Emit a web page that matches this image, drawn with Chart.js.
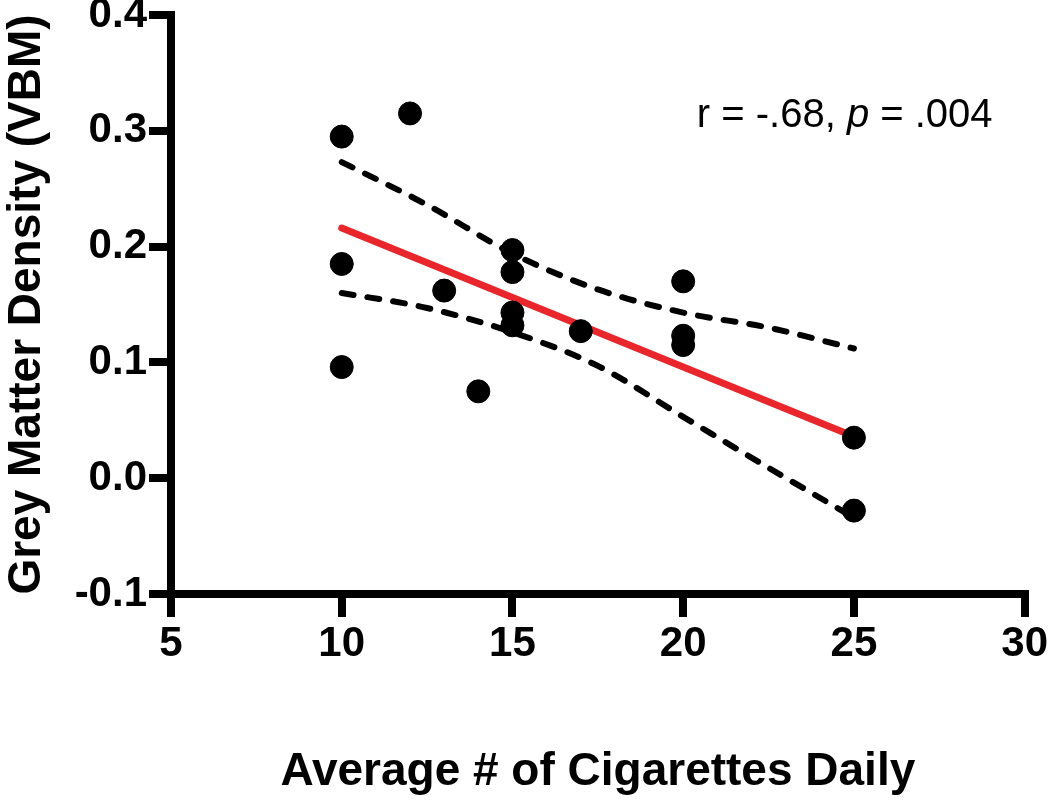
<!DOCTYPE html>
<html>
<head>
<meta charset="utf-8">
<script src="https://cdn.jsdelivr.net/npm/chart.js@4/dist/chart.umd.min.js"></script>
<style>
	body { margin: 0; background: #fff; }
	canvas { display: block; }
</style>
</head>
<body>
<canvas id="smokeChart" width="1050" height="800"></canvas>
<script>
// cigarettes per day vs grey matter density
var cigsDaily = [10, 12, 10, 10, 13, 14, 15, 15, 15, 15, 17, 20, 20, 20, 25, 25];
var greyDensity = [0.295, 0.315, 0.185, 0.096, 0.162, 0.075, 0.197, 0.178, 0.143, 0.132, 0.127, 0.170, 0.123, 0.115, 0.035, -0.028];

// fitted line
var fitX = [10, 25];
var fitY = [0.216, 0.036];

// 95% band
var bandX = [10, 12.5, 15, 17.5, 20, 22.5, 25];
var bandUpper = [0.273, 0.236, 0.194, 0.163, 0.143, 0.130, 0.112];
var bandLower = [0.160, 0.147, 0.126, 0.097, 0.053, 0.009, -0.034];

var xTicks = [5, 10, 15, 20, 25, 30];
var yTicks = [-0.1, 0.0, 0.1, 0.2, 0.3, 0.4];

var statsNote = ["r = -.68, ", "p", " = .004"];
var noteX = 20.4, noteY = 0.303;

var fontFam = "'Liberation Sans', Arial, Helvetica, sans-serif";

function toPts(xs, ys){
	var out = [];
	for (var i = 0; i < xs.length; i++) out.push({x: xs[i], y: ys[i]});
	return out;
}

var notePlugin = {
	id: 'statsNote',
	afterDatasetsDraw: function(chart){
		var ctx = chart.ctx;
		var x = chart.scales.x.getPixelForValue(noteX);
		var y = chart.scales.y.getPixelForValue(noteY);
		ctx.save();
		ctx.fillStyle = '#000';
		ctx.textBaseline = 'alphabetic';
		ctx.textAlign = 'left';
		for (var i = 0; i < statsNote.length; i++) {
			ctx.font = (i == 1 ? 'italic ' : '') + '40px ' + fontFam;
			ctx.fillText(statsNote[i], x, y);
			x += ctx.measureText(statsNote[i]).width;
		}
		ctx.restore();
	}
};

Chart.defaults.color = '#000';
Chart.defaults.font.family = fontFam;

var dashStyle = {
	borderColor: '#000',
	borderWidth: 6,
	borderDash: [12, 14],
	borderCapStyle: 'round',
	showLine: true,
	pointRadius: 0,
	cubicInterpolationMode: 'monotone',
	fill: false
};

new Chart('smokeChart', {
	type: 'scatter',
	data: {
		datasets: [{
			label: 'subjects',
			data: toPts(cigsDaily, greyDensity),
			backgroundColor: '#000',
			borderColor: '#000',
			pointRadius: 11.5,
			order: 0
		}, {
			label: 'fit',
			data: toPts(fitX, fitY),
			showLine: true,
			borderColor: '#e8262b',
			borderWidth: 7,
			borderCapStyle: 'round',
			pointRadius: 0,
			order: 1
		}, Object.assign({label: 'upper', data: toPts(bandX, bandUpper), order: 2}, dashStyle),
		   Object.assign({label: 'lower', data: toPts(bandX, bandLower), order: 2}, dashStyle)]
	},
	options: {
		responsive: false,
		animation: false,
		layout: { padding: { top: 15, right: 25, left: 0, bottom: 0 } },
		plugins: { legend: { display: false }, tooltip: { enabled: false } },
		scales: {
			x: {
				type: 'linear',
				min: 5, max: 30,
				afterBuildTicks: function(s){ s.ticks = xTicks.map(function(v){ return {value: v}; }); },
				afterFit: function(s){ s.height = 206; },
				grid: { drawOnChartArea: false, color: '#000', tickLength: 23, lineWidth: 8, tickWidth: 8 },
				border: { color: '#000', width: 8 },
				ticks: { font: { size: 42, weight: 'bold' }, padding: 2 },
				title: { display: true, text: 'Average # of Cigarettes Daily', font: { size: 46, weight: 'bold' }, padding: 0 }
			},
			y: {
				min: -0.1, max: 0.4,
				afterBuildTicks: function(s){ s.ticks = yTicks.map(function(v){ return {value: v}; }); },
				afterFit: function(s){ s.width = 171; s.paddingTop = 0; },
				grid: { drawOnChartArea: false, color: '#000', tickLength: 22, lineWidth: 8, tickWidth: 8 },
				border: { color: '#000', width: 8 },
				ticks: { font: { size: 42, weight: 'bold' }, padding: 2, callback: function(v){ return v.toFixed(1); } },
				title: { display: true, text: 'Grey Matter Density (VBM)', font: { size: 46, weight: 'bold' }, padding: 0 }
			}
		}
	},
	plugins: [notePlugin]
});
</script>
</body>
</html>
